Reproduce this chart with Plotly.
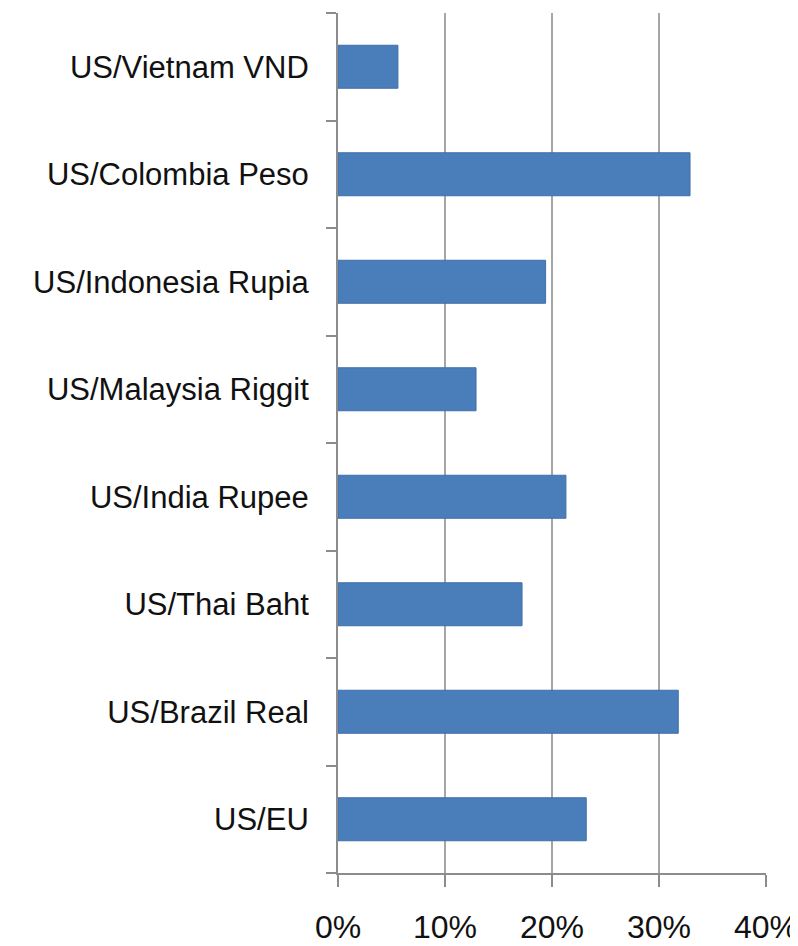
import plotly.graph_objects as go

categories = ["US/EU", "US/Brazil Real", "US/Thai Baht", "US/India Rupee",
              "US/Malaysia Riggit", "US/Indonesia Rupia", "US/Colombia Peso", "US/Vietnam VND"]
values = [0.232, 0.318, 0.172, 0.213, 0.129, 0.194, 0.329, 0.056]
x_ticks = [0, 0.1, 0.2, 0.3, 0.4]
x_tick_labels = ["0%", "10%", "20%", "30%", "40%"]

fig = go.Figure(go.Bar(
    x=values, y=categories, orientation="h",
    marker=dict(color="#4a7ebb", line=dict(color="#3f6fa8", width=1)),
))

fig.update_layout(
    width=798, height=946,
    margin=dict(l=330, r=40, t=5, b=81),
    paper_bgcolor="white", plot_bgcolor="white",
    bargap=0.6,
    showlegend=False,
    font=dict(family="Liberation Sans, Arial, sans-serif", color="#111111"),
)
fig.update_xaxes(
    range=[0, 0.4], tickvals=x_ticks, ticktext=x_tick_labels,
    showgrid=True, gridcolor="#a6a6a6", gridwidth=2,
    showline=True, linecolor="#8c8c8c", linewidth=2,
    ticks="outside", ticklen=12, tickcolor="#8c8c8c", tickwidth=2,
    tickfont=dict(size=32), ticklabelstandoff=13,
    zeroline=False, fixedrange=True, automargin=False,
)
fig.update_yaxes(
    categoryorder="array", categoryarray=categories,
    showline=True, linecolor="#8c8c8c", linewidth=2,
    ticks="outside", ticklen=10, tickcolor="#8c8c8c", tickwidth=2,
    tickson="boundaries",
    tickfont=dict(size=31), ticklabelstandoff=21,
    showgrid=False, fixedrange=True, automargin=False,
)

fig.write_html("out.html")
